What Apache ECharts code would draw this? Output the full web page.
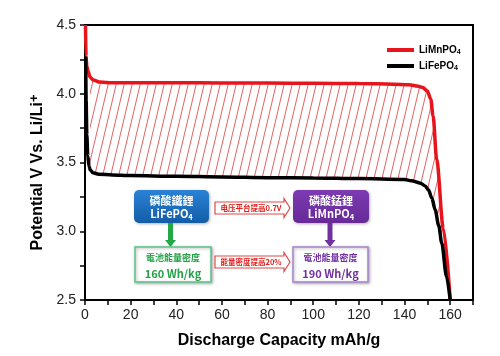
<!DOCTYPE html>
<html><head><meta charset="utf-8">
<script src="https://cdn.jsdelivr.net/npm/echarts@6/dist/echarts.min.js"></script>
<style>html,body{margin:0;padding:0;background:#fff}#c{width:500px;height:356px}</style>
</head><body><div id="c"></div>
<script>
const seriesNames = ['LiMnPO4', 'LiFePO4'];
const mnCapacity = [0.2, 0.45, 0.8, 1.45, 2.2, 3.6, 6.6, 12, 20, 40, 60, 80, 100, 120, 135, 142, 146, 148, 150, 151.5, 152.5, 154.1, 157, 160];
const mnVoltage  = [4.5, 4.27, 4.2, 4.16, 4.12, 4.10, 4.085, 4.08, 4.08, 4.08, 4.079, 4.078, 4.076, 4.074, 4.07, 4.066, 4.055, 4.045, 4.02, 3.96, 3.84, 3.52, 3.02, 2.5];
const feCapacity = [0.3, 0.5, 0.8, 1.2, 1.8, 2.2, 3.5, 6, 12, 20, 40, 60, 80, 100, 120, 140, 143, 147, 149, 150.5, 152, 153.4, 155, 156.3, 158.4, 160];
const feVoltage  = [4.27, 3.95, 3.7, 3.55, 3.47, 3.45, 3.425, 3.415, 3.41, 3.405, 3.40, 3.395, 3.39, 3.388, 3.383, 3.376, 3.368, 3.35, 3.33, 3.30, 3.24, 3.157, 3.04, 2.915, 2.67, 2.5];
const xTickLabels = [0, 20, 40, 60, 80, 100, 120, 140, 160];
const yTickLabels = [2.5, 3.0, 3.5, 4.0, 4.5];
const hatchStart = 2.2;

const pairs = (xs, ys) => xs.map((x, i) => [x, ys[i]]);
const mnData = pairs(mnCapacity, mnVoltage);
const feData = pairs(feCapacity, feVoltage);
const hatchPoly = mnData.filter(p => p[0] >= hatchStart)
  .concat(feData.filter(p => p[0] >= hatchStart).reverse());

// hatch pattern tile
const pc = document.createElement('canvas');
pc.width = 8; pc.height = 34;
const g = pc.getContext('2d');
g.strokeStyle = 'rgba(214,36,36,0.8)';
g.lineWidth = 0.9;
for (const off of [-8, 0, 8]) { g.beginPath(); g.moveTo(off, 34); g.lineTo(off + 8, 0); g.stroke(); }

const AX = 'Liberation Sans';
const TC = '"Noto Sans CJK TC"';
const SC = '"Noto Sans CJK SC"';

function txt(x, y, text, fill, size, fam, rich) {
  return { type: 'text', x: x, y: y, z: 100,
    style: { text: text, fill: fill, align: 'center', verticalAlign: 'middle',
      font: 'bold ' + size + 'px ' + fam, rich: rich } };
}
function subRich(color) {
  return {
    a: { fontSize: 11, fontWeight: 'bold', fontFamily: 'Noto Sans CJK TC', fill: color, color: color, lineHeight: 14 },
    b: { fontSize: 7.5, fontWeight: 'bold', fontFamily: 'Noto Sans CJK TC', fill: color, color: color, lineHeight: 8, verticalAlign: 'bottom' }
  };
}
function downArrow(cx, y0, y1, color) {
  return { type: 'polygon', z: 100, shape: { points: [
    [cx - 2.5, y0], [cx + 2.5, y0], [cx + 2.5, y1 - 7], [cx + 5.5, y1 - 7], [cx, y1],
    [cx - 5.5, y1 - 7], [cx - 2.5, y1 - 7]] }, style: { fill: color } };
}
function rightArrow(x0, x1, cy) {
  return { type: 'polygon', z: 100, shape: { points: [
    [x0, cy - 6], [x1 - 6, cy - 6], [x1 - 6, cy - 9.5], [x1, cy], [x1 - 6, cy + 9.5],
    [x1 - 6, cy + 6], [x0, cy + 6]] }, style: { fill: '#fff', stroke: '#e04848', lineWidth: 1.2 } };
}
const shadow = { shadowBlur: 3, shadowColor: 'rgba(0,0,0,0.3)', shadowOffsetY: 1, shadowOffsetX: 1 };

const chart = echarts.init(document.getElementById('c'), null, { renderer: 'canvas' });
chart.setOption({
  animation: false,
  backgroundColor: '#fff',
  grid: { left: 85, right: 27, top: 25, bottom: 56, show: true, borderColor: '#000', borderWidth: 2 },
  legend: {
    data: seriesNames, orient: 'vertical', left: 382, top: 40, itemWidth: 27, itemHeight: 4, itemGap: 5,
    icon: 'rect',
    formatter: n => '{n|' + n.slice(0, -1) + '}{s|' + n.slice(-1) + '}',
    textStyle: { rich: {
      n: { fontSize: 10, fontWeight: 'bold', fontFamily: AX, color: '#000', lineHeight: 12 },
      s: { fontSize: 7, fontWeight: 'bold', fontFamily: AX, color: '#000', lineHeight: 6, verticalAlign: 'bottom' }
    } }
  },
  xAxis: {
    type: 'value', min: 0, max: 170, interval: 10,
    name: 'Discharge Capacity mAh/g', nameLocation: 'middle', nameGap: 33,
    nameTextStyle: { fontSize: 16, fontWeight: 'bold', fontFamily: AX, color: '#000' },
    axisLine: { show: true, lineStyle: { color: '#000', width: 2 } },
    axisTick: { show: true, inside: false, length: 5, lineStyle: { color: '#000', width: 1.5 } },
    axisLabel: { margin: 8, fontSize: 14, fontFamily: AX, color: '#222',
      formatter: v => xTickLabels.includes(v) ? String(v) : '' },
    splitLine: { show: false }
  },
  yAxis: {
    type: 'value', min: 2.5, max: 4.5, interval: 0.25,
    name: '{a|Potential V Vs. Li/Li}{b|+}', nameLocation: 'middle', nameGap: 36, nameRotate: 90,
    nameTextStyle: { padding: [0, 20, 0, 0], rich: {
      a: { fontSize: 16, fontWeight: 'bold', fontFamily: AX, color: '#000', lineHeight: 20 },
      b: { fontSize: 13, fontWeight: 'bold', fontFamily: AX, color: '#000', lineHeight: 12, verticalAlign: 'top' }
    } },
    axisLine: { show: true, lineStyle: { color: '#000', width: 2 } },
    axisTick: { show: true, inside: false, length: 5, lineStyle: { color: '#000', width: 1.5 } },
    axisLabel: { margin: 9, fontSize: 14, fontFamily: AX, color: '#222',
      formatter: v => yTickLabels.some(t => Math.abs(t - v) < 1e-6) ? v.toFixed(1) : '' },
    splitLine: { show: false }
  },
  series: [
    { type: 'custom', silent: true, z: 1, data: [[0, 3]],
      renderItem: (params, api) => ({ type: 'polygon',
        shape: { points: hatchPoly.map(p => api.coord(p)) },
        style: { fill: { image: pc, repeat: 'repeat' }, stroke: null } }) },
    { name: seriesNames[0], type: 'line', data: mnData, showSymbol: false, symbol: 'none', z: 3,
      smooth: 0.3, smoothMonotone: 'x', color: '#e8141b', lineStyle: { color: '#e8141b', width: 3.5 } },
    { name: seriesNames[1], type: 'line', data: feData, showSymbol: false, symbol: 'none', z: 4,
      smooth: 0.3, smoothMonotone: 'x', color: '#000', lineStyle: { color: '#000', width: 3.5 } }
  ],
  graphic: [
    // LiFePO4 group
    { type: 'rect', z: 100, shape: { x: 134, y: 190, width: 75, height: 33, r: 5 },
      style: Object.assign({ fill: new echarts.graphic.LinearGradient(0, 0, 0, 1, [
        { offset: 0, color: '#2b82d6' }, { offset: 1, color: '#135da8' }]) }, shadow) },
    txt(171.5, 200.5, '磷酸鐵鋰', '#fff', 11, TC),
    txt(171.5, 214, '{a|LiFePO}{b|4}', '#fff', 11, TC, subRich('#fff')),
    downArrow(170.5, 223, 247, '#22a845'),
    { type: 'rect', z: 100, shape: { x: 135, y: 247, width: 76, height: 35 },
      style: Object.assign({ fill: '#fff', stroke: '#5cc28a', lineWidth: 1.5 }, shadow) },
    txt(173, 257.5, '電池能量密度', '#24a146', 9, TC),
    txt(173, 274, '160 Wh/kg', '#24a146', 11, TC),
    // arrows
    rightArrow(215, 290, 208),
    txt(251, 208, '电压平台提高0.7V', '#e0201c', 7.5, SC),
    rightArrow(215, 290, 262),
    txt(251, 262, '能量密度提高20%', '#e0201c', 7.5, SC),
    // LiMnPO4 group
    { type: 'rect', z: 100, shape: { x: 293, y: 190, width: 76, height: 33, r: 5 },
      style: Object.assign({ fill: new echarts.graphic.LinearGradient(0, 0, 0, 1, [
        { offset: 0, color: '#7c3bb3' }, { offset: 1, color: '#672a96' }]) }, shadow) },
    txt(331, 200.5, '磷酸錳鋰', '#fff', 11, TC),
    txt(331, 214, '{a|LiMnPO}{b|4}', '#fff', 11, TC, subRich('#fff')),
    downArrow(330, 223, 247, '#7030a0'),
    { type: 'rect', z: 100, shape: { x: 293, y: 247, width: 75, height: 35 },
      style: Object.assign({ fill: '#fff', stroke: '#a584cc', lineWidth: 1.5 }, shadow) },
    txt(330.5, 257.5, '電池能量密度', '#7030a0', 9, TC),
    txt(330.5, 274, '190 Wh/kg', '#7030a0', 11, TC)
  ]
});
</script></body></html>
